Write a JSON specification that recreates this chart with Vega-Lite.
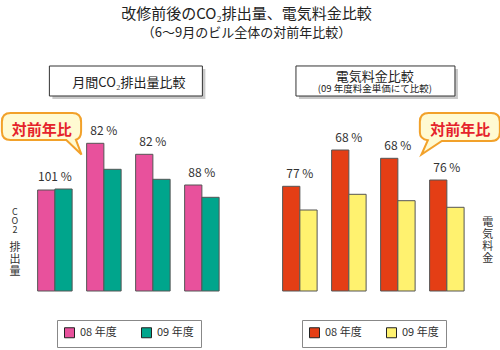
{
  "$schema": "https://vega.github.io/schema/vega-lite/v6.json",
  "width": 459,
  "height": 231,
  "autosize": {"type": "none"},
  "padding": {"left": 23, "top": 60, "right": 18, "bottom": 59},
  "background": "white",
  "config": {"view": {"stroke": null}, "font": "Noto Sans CJK JP"},
  "title": {
    "text": "改修前後のCO₂排出量、電気料金比較",
    "subtitle": "（6〜9月のビル全体の対前年比較）",
    "anchor": "middle",
    "frame": "group",
    "fontSize": 15,
    "fontWeight": "normal",
    "font": "Noto Sans CJK JP",
    "color": "#222",
    "subtitleFontSize": 13,
    "subtitleFont": "Noto Sans CJK JP",
    "subtitleColor": "#222",
    "subtitlePadding": 5,
    "offset": 20,
    "dx": -6
  },
  "data": {
    "values": [
      {"panel": "CO2", "slot": "CO2 6月", "year": "08 年度", "value": 101, "pct": "101 %"},
      {"panel": "CO2", "slot": "CO2 6月", "year": "09 年度", "value": 102, "pct": "101 %"},
      {"panel": "CO2", "slot": "CO2 7月", "year": "08 年度", "value": 147.7, "pct": "82 %"},
      {"panel": "CO2", "slot": "CO2 7月", "year": "09 年度", "value": 121.7, "pct": "82 %"},
      {"panel": "CO2", "slot": "CO2 8月", "year": "08 年度", "value": 136.7, "pct": "82 %"},
      {"panel": "CO2", "slot": "CO2 8月", "year": "09 年度", "value": 111.7, "pct": "82 %"},
      {"panel": "CO2", "slot": "CO2 9月", "year": "08 年度", "value": 106, "pct": "88 %"},
      {"panel": "CO2", "slot": "CO2 9月", "year": "09 年度", "value": 93.7, "pct": "88 %"},
      {"panel": "電気", "slot": "電気 6月", "year": "08 年度", "value": 104.7, "pct": "77 %"},
      {"panel": "電気", "slot": "電気 6月", "year": "09 年度", "value": 81, "pct": "77 %"},
      {"panel": "電気", "slot": "電気 7月", "year": "08 年度", "value": 141, "pct": "68 %"},
      {"panel": "電気", "slot": "電気 7月", "year": "09 年度", "value": 96.7, "pct": "68 %"},
      {"panel": "電気", "slot": "電気 8月", "year": "08 年度", "value": 132.7, "pct": "68 %"},
      {"panel": "電気", "slot": "電気 8月", "year": "09 年度", "value": 90.3, "pct": "68 %"},
      {"panel": "電気", "slot": "電気 9月", "year": "08 年度", "value": 111, "pct": "76 %"},
      {"panel": "電気", "slot": "電気 9月", "year": "09 年度", "value": 83.7, "pct": "76 %"}
    ]
  },
  "layer": [
    {
      "transform": [{"filter": {"field": "panel", "equal": "CO2"}}],
      "mark": {"type": "bar", "stroke": "#555", "strokeWidth": 1},
      "encoding": {
        "x": {
          "field": "slot", "type": "nominal", "title": null,
          "scale": {
            "domain": ["CO2 6月", "CO2 7月", "CO2 8月", "CO2 9月", "gap", "電気 6月", "電気 7月", "電気 8月", "電気 9月"],
            "paddingInner": 0.296, "paddingOuter": 0.332, "align": 0.45
          },
          "axis": {
            "labelExpr": "datum.value == 'gap' ? '' : split(datum.value, ' ')[1]",
            "ticks": false, "grid": false,
            "domainColor": "#888", "domainWidth": 1.5,
            "labelFontSize": 12, "labelColor": "#333", "labelPadding": 8, "labelAngle": 0,
            "labelFont": "Noto Sans CJK JP"
          }
        },
        "xOffset": {"field": "year", "type": "nominal"},
        "y": {"field": "value", "type": "quantitative", "scale": {"domain": [0, 231], "nice": false}, "axis": null},
        "fill": {
          "field": "year", "type": "nominal",
          "scale": {"domain": ["08 年度", "09 年度"], "range": ["#e8519c", "#00a58c"]},
          "legend": {
            "orient": "none", "legendX": 34, "legendY": 260, "direction": "horizontal", "title": null,
            "strokeColor": "#888", "fillColor": "white", "padding": 7,
            "symbolType": "square", "symbolSize": 100, "symbolStrokeColor": "#222", "symbolStrokeWidth": 1, "symbolOpacity": 1,
            "labelFontSize": 11, "labelColor": "#333", "labelFont": "Noto Sans CJK JP", "columnPadding": 22, "labelOffset": 5
          }
        }
      }
    },
    {
      "transform": [{"filter": {"field": "panel", "equal": "電気"}}],
      "mark": {"type": "bar", "stroke": "#555", "strokeWidth": 1},
      "encoding": {
        "x": {"field": "slot", "type": "nominal", "title": null, "axis": null},
        "xOffset": {"field": "year", "type": "nominal"},
        "y": {"field": "value", "type": "quantitative", "axis": null},
        "fill": {
          "field": "year", "type": "nominal",
          "scale": {"domain": ["08 年度", "09 年度"], "range": ["#e43e15", "#fff26f"]},
          "legend": {
            "orient": "none", "legendX": 279, "legendY": 260, "direction": "horizontal", "title": null,
            "strokeColor": "#888", "fillColor": "white", "padding": 7,
            "symbolType": "square", "symbolSize": 100, "symbolStrokeColor": "#222", "symbolStrokeWidth": 1, "symbolOpacity": 1,
            "labelFontSize": 11, "labelColor": "#333", "labelFont": "Noto Sans CJK JP", "columnPadding": 22, "labelOffset": 5
          }
        }
      }
    },
    {
      "transform": [{"aggregate": [{"op": "max", "field": "value", "as": "top"}], "groupby": ["slot", "pct"]}],
      "mark": {"type": "text", "dy": -12, "fontSize": 12, "color": "#333", "font": "Noto Sans CJK JP"},
      "encoding": {
        "x": {"field": "slot", "type": "nominal", "title": null, "axis": null},
        "y": {"field": "top", "type": "quantitative", "axis": null},
        "text": {"field": "pct"}
      }
    },
    {
      "data": {"values": [{}]},
      "mark": {"type": "point", "shape": "M-1,-0.196L1,-0.196L1,0.196L-1,0.196Z", "size": 23409, "filled": true, "fill": "#888", "opacity": 0.45, "strokeWidth": 0, "xOffset": 25, "yOffset": 3},
      "encoding": {"x": {"datum": "CO2 7月", "type": "nominal", "axis": null}, "y": {"datum": 210, "type": "quantitative", "axis": null}}
    },
    {
      "data": {"values": [{}]},
      "mark": {"type": "point", "shape": "M-1,-0.196L1,-0.196L1,0.196L-1,0.196Z", "size": 23409, "filled": true, "fill": "white", "stroke": "#333", "strokeWidth": 1, "opacity": 1, "xOffset": 22},
      "encoding": {"x": {"datum": "CO2 7月", "type": "nominal", "axis": null}, "y": {"datum": 210, "type": "quantitative", "axis": null}}
    },
    {
      "data": {"values": [{}]},
      "mark": {"type": "text", "text": "月間CO₂排出量比較", "fontSize": 13, "color": "#222", "font": "Noto Sans CJK JP", "xOffset": 25},
      "encoding": {"x": {"datum": "CO2 7月", "type": "nominal", "axis": null}, "y": {"datum": 207.7, "type": "quantitative", "axis": null}}
    },
    {
      "data": {"values": [{}]},
      "mark": {"type": "point", "shape": "M-1,-0.189L1,-0.189L1,0.189L-1,0.189Z", "size": 25281, "filled": true, "fill": "#888", "opacity": 0.45, "strokeWidth": 0, "xOffset": 29.6, "yOffset": 3},
      "encoding": {"x": {"datum": "電気 7月", "type": "nominal", "axis": null}, "y": {"datum": 210, "type": "quantitative", "axis": null}}
    },
    {
      "data": {"values": [{}]},
      "mark": {"type": "point", "shape": "M-1,-0.189L1,-0.189L1,0.189L-1,0.189Z", "size": 25281, "filled": true, "fill": "white", "stroke": "#333", "strokeWidth": 1, "opacity": 1, "xOffset": 26.6},
      "encoding": {"x": {"datum": "電気 7月", "type": "nominal", "axis": null}, "y": {"datum": 210, "type": "quantitative", "axis": null}}
    },
    {
      "data": {"values": [{}]},
      "mark": {"type": "text", "text": "電気料金比較", "fontSize": 13, "color": "#222", "font": "Noto Sans CJK JP", "xOffset": 26},
      "encoding": {"x": {"datum": "電気 7月", "type": "nominal", "axis": null}, "y": {"datum": 214.3, "type": "quantitative", "axis": null}}
    },
    {
      "data": {"values": [{}]},
      "mark": {"type": "text", "text": "(09 年度料金単価にて比較)", "fontSize": 9.5, "color": "#222", "font": "Noto Sans CJK JP", "xOffset": 26},
      "encoding": {"x": {"datum": "電気 7月", "type": "nominal", "axis": null}, "y": {"datum": 201.7, "type": "quantitative", "axis": null}}
    },
    {
      "data": {"values": [{}]},
      "mark": {"type": "point", "shape": "M-0.77,-0.34L0.77,-0.34Q0.99,-0.34 0.99,-0.12L0.99,0.12Q0.99,0.3 0.86,0.33L1,0.7L0.62,0.34L-0.77,0.34Q-0.99,0.34 -0.99,0.12L-0.99,-0.12Q-0.99,-0.34 -0.77,-0.34Z", "size": 6400, "filled": true, "fill": "#fffad2", "stroke": "#f2a12a", "strokeWidth": 2, "opacity": 1, "xOffset": -13.4},
      "encoding": {"x": {"datum": "CO2 6月", "type": "nominal", "axis": null}, "y": {"datum": 164.5, "type": "quantitative", "axis": null}}
    },
    {
      "data": {"values": [{}]},
      "mark": {"type": "point", "shape": "M-0.78,-0.35L0.78,-0.35Q1,-0.35 1,-0.13L1,0.13Q1,0.35 0.78,0.35L-0.45,0.35L-0.96,0.69L-0.8,0.33Q-1,0.3 -1,0.13L-1,-0.13Q-1,-0.35 -0.78,-0.35Z", "size": 6400, "filled": true, "fill": "#fffad2", "stroke": "#f2a12a", "strokeWidth": 2, "opacity": 1, "xOffset": 13},
      "encoding": {"x": {"datum": "電気 9月", "type": "nominal", "axis": null}, "y": {"datum": 164, "type": "quantitative", "axis": null}}
    },
    {
      "data": {"values": [{}]},
      "mark": {"type": "text", "text": "対前年比", "fontSize": 15, "fontWeight": "bold", "color": "#e5222b", "font": "Noto Sans CJK JP", "xOffset": -13.2},
      "encoding": {"x": {"datum": "CO2 6月", "type": "nominal", "axis": null}, "y": {"datum": 161.3, "type": "quantitative", "axis": null}}
    },
    {
      "data": {"values": [{}]},
      "mark": {"type": "text", "text": "対前年比", "fontSize": 15, "fontWeight": "bold", "color": "#e5222b", "font": "Noto Sans CJK JP", "xOffset": 13.4},
      "encoding": {"x": {"datum": "電気 9月", "type": "nominal", "axis": null}, "y": {"datum": 161.3, "type": "quantitative", "axis": null}}
    },
    {
      "data": {"values": [{}]},
      "mark": {"type": "text", "text": ["C", "O", "2"], "fontSize": 9, "lineHeight": 9, "color": "#333", "font": "Noto Sans CJK JP", "xOffset": -40},
      "encoding": {"x": {"datum": "CO2 6月", "type": "nominal", "axis": null}, "y": {"datum": 79, "type": "quantitative", "axis": null}}
    },
    {
      "data": {"values": [{}]},
      "mark": {"type": "text", "text": ["排", "出", "量"], "fontSize": 11, "lineHeight": 12, "color": "#333", "font": "Noto Sans CJK JP", "xOffset": -40},
      "encoding": {"x": {"datum": "CO2 6月", "type": "nominal", "axis": null}, "y": {"datum": 43, "type": "quantitative", "axis": null}}
    },
    {
      "data": {"values": [{}]},
      "mark": {"type": "text", "text": ["電", "気", "料", "金"], "fontSize": 11, "lineHeight": 12, "color": "#333", "font": "Noto Sans CJK JP", "xOffset": 41},
      "encoding": {"x": {"datum": "電気 9月", "type": "nominal", "axis": null}, "y": {"datum": 68.1, "type": "quantitative", "axis": null}}
    }
  ],
  "resolve": {"scale": {"fill": "independent"}, "legend": {"fill": "independent"}}
}
